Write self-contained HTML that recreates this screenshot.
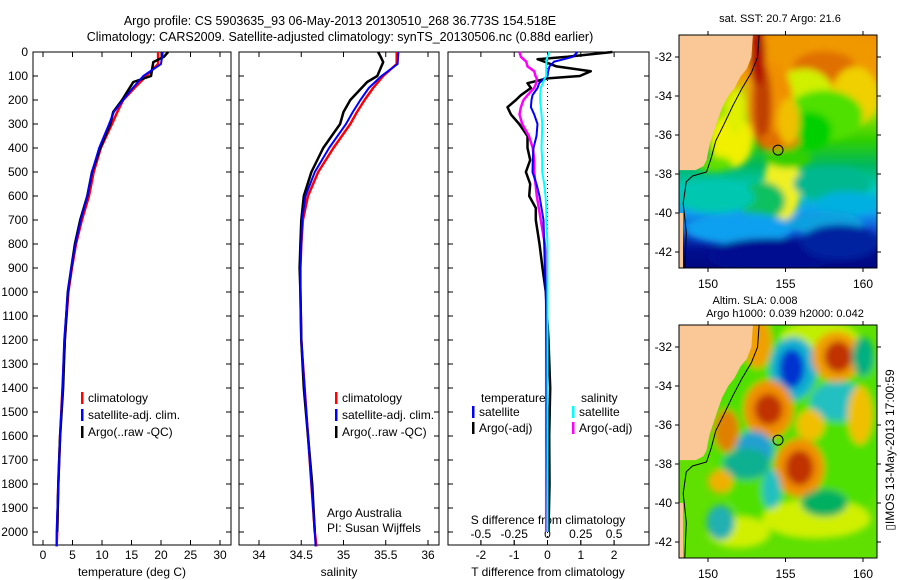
<!DOCTYPE html>
<html><head><meta charset="utf-8"><style>
html,body{margin:0;padding:0;background:#fff;}
svg{display:block;font-family:"Liberation Sans",sans-serif;}
</style></head><body>
<svg id="fig" width="900" height="580" viewBox="0 0 900 580">
<defs>
<filter id="blur" x="-20%" y="-20%" width="140%" height="140%"><feGaussianBlur stdDeviation="3.5"/></filter>
<linearGradient id="sstbg" x1="0" y1="0" x2="0" y2="1">
<stop offset="0" stop-color="#f09000"/><stop offset="0.18" stop-color="#f0a000"/>
<stop offset="0.3" stop-color="#b0e800"/><stop offset="0.45" stop-color="#30d000"/>
<stop offset="0.56" stop-color="#00b860"/><stop offset="0.66" stop-color="#00c8c0"/>
<stop offset="0.76" stop-color="#10a0f0"/><stop offset="0.84" stop-color="#1050d0"/>
<stop offset="0.92" stop-color="#001090"/><stop offset="1" stop-color="#000880"/>
</linearGradient>
<clipPath id="clip1"><rect x="679" y="35" width="198" height="233"/></clipPath>
<clipPath id="clip2"><rect x="679" y="325" width="198" height="233"/></clipPath>
</defs>
<text x="340" y="25" font-size="12.5" text-anchor="middle">Argo profile: CS 5903635_93 06-May-2013 20130510_268 36.773S 154.518E</text>
<text x="340" y="41" font-size="12.5" text-anchor="middle">Climatology: CARS2009. Satellite-adjusted climatology: synTS_20130506.nc (0.88d earlier)</text>
<g id="g"></g>
</svg>
<script>
// ---- data ----
const depths = [0,50,100,150,200,250,300,400,500,600,700,800,900,1000,1200,1400,1600,1800,2000,2060];
const tempClim = [19.5,19.5,17.5,15.5,13.6,12.6,11.7,9.8,8.6,7.8,6.6,5.6,4.9,4.3,3.7,3.3,2.9,2.6,2.4,2.3];
const tempSat = [20.3,20.0,17.0,15.2,13.6,12.0,11.2,9.5,8.3,7.5,6.4,5.5,4.8,4.2,3.6,3.3,2.9,2.6,2.3,2.3];
const argoDepths = [0,20,42,100,125,200,250,300,400,500,600,700,800,900,1000,1200,1400,1600,1800,2000];
const tempArgo = [21.2,20.5,18.7,18.3,15.3,13.4,11.9,11.4,9.7,8.3,7.5,6.3,5.4,4.8,4.2,3.7,3.4,2.9,2.6,2.4];
const salClim = [35.63,35.63,35.47,35.35,35.25,35.16,35.08,34.88,34.7,34.58,34.52,34.5,34.49,34.49,34.5,34.54,34.58,34.62,34.66,34.68];
const salSat = [35.65,35.64,35.45,35.3,35.2,35.11,35.03,34.83,34.66,34.55,34.51,34.5,34.49,34.49,34.5,34.54,34.58,34.62,34.66,34.67];
const salArgo = [35.41,35.44,35.47,35.4,35.28,35.08,35.0,34.96,34.76,34.62,34.53,34.5,34.49,34.48,34.49,34.5,34.53,34.58,34.63,34.66];
const diffDepths = [0,20,30,40,60,80,100,110,130,150,180,200,230,260,300,350,400,450,500,550,600,650,700,800,900,1000,1200,1400,1600,1800,2000];
const tDiffSat = [0.9,0.76,0.5,0.2,0.06,0.02,0,-0.1,-0.25,-0.3,-0.45,-0.48,-0.5,-0.4,-0.3,-0.33,-0.42,-0.44,-0.45,-0.33,-0.24,-0.18,-0.12,-0.1,-0.08,-0.05,-0.03,-0.02,-0.02,-0.01,0];
const tDiffArgo = [1.95,0.6,-0.3,-0.1,0.27,1.3,0.97,0,-0.6,-0.5,-0.8,-0.95,-1.2,-1.1,-0.85,-0.6,-0.6,-0.52,-0.65,-0.52,-0.55,-0.35,-0.35,-0.24,-0.15,-0.05,0.03,0.08,0.05,0.06,0.03];
const sDiffSat = [0.015,0.0,-0.005,-0.008,-0.01,-0.01,-0.01,-0.02,-0.035,-0.05,-0.055,-0.055,-0.05,-0.045,-0.04,-0.042,-0.045,-0.04,-0.04,-0.025,-0.015,-0.01,-0.008,0,0,0,0,0,0,0,0];
const sDiffArgo = [-0.21,-0.2,-0.18,-0.16,-0.15,-0.1,-0.09,-0.08,-0.085,-0.1,-0.15,-0.18,-0.2,-0.21,-0.19,-0.14,-0.11,-0.1,-0.1,-0.09,-0.08,-0.065,-0.05,-0.02,-0.01,-0.01,-0.01,-0.01,-0.01,-0.01,-0.01];
const depthTicks = [0,100,200,300,400,500,600,700,800,900,1000,1100,1200,1300,1400,1500,1600,1700,1800,1900,2000];
const tempTicks = [0,5,10,15,20,25,30];
const salTicks = [34,34.5,35,35.5,36];
const tDiffTicks = [-2,-1,0,1,2];
const sDiffTicks = [-0.5,-0.25,0,0.25,0.5];
const mapLonTicks = [150,155,160];
const mapLatTicks = [-32,-34,-36,-38,-40,-42];

// ---- axes ----
const yD = d => 52 + d*0.24;
const xT = t => 43 + t*5.9;
const xS = s => 259 + (s-34)*84.5;
const xTD = d => 547.5 + d*33.3;
const xSD = d => 547.5 + d*133.2;
const xLon = l => 708 + (l-150)*15.5;
const yLat1 = l => 57 + (-32-l)*19.5;
const yLat2 = l => 347 + (-32-l)*19.5;

const NS='http://www.w3.org/2000/svg';
const G=document.getElementById('g');
function el(tag,attrs,parent){const e=document.createElementNS(NS,tag);for(const k in attrs)e.setAttribute(k,attrs[k]);(parent||G).appendChild(e);return e;}
function txt(x,y,s,anchor,size,parent){const t=el('text',{x:x,y:y,'font-size':size||12,'text-anchor':anchor||'start'},parent);t.textContent=s;return t;}

function panel(x0,x1,name){
  const r=el('rect',{x:x0,y:52,width:x1-x0,height:493,fill:'none',stroke:'#000','stroke-width':1});
  
  
}
panel(33,231,'temperature-panel');
panel(239,439,'salinity-panel');
panel(448,649,'difference-panel');

depthTicks.forEach(d=>{
  const y=yD(d);
  const t=txt(28,y+4,String(d),'end',12);
  
  
  [[33,231],[239,439],[448,649]].forEach(p=>{
    el('line',{x1:p[0],x2:p[0]+5,y1:y,y2:y,stroke:'#000'});
    el('line',{x1:p[1],x2:p[1]-5,y1:y,y2:y,stroke:'#000'});
  });
});
function xticks(arr,fx,y){
  arr.forEach(v=>{
    const x=fx(v);
    el('line',{x1:x,x2:x,y1:545,y2:540,stroke:'#000'});
    el('line',{x1:x,x2:x,y1:52,y2:57,stroke:'#000'});
    const t=txt(x,y,String(v),'middle',12);
    
    
  });
}
xticks(tempTicks,xT,559);
xticks(salTicks,xS,559);
xticks(tDiffTicks,xTD,559);
sDiffTicks.forEach(v=>{
  const x=xSD(v);
  el('line',{x1:x,x2:x,y1:545,y2:540,stroke:'#000'});
  const t=txt(x,538,String(v),'middle',12);
  
  
});
let a=txt(132,576,'temperature (deg C)','middle',12);  
a=txt(339,576,'salinity','middle',12);  
a=txt(548,576,'T difference from climatology','middle',12);  
a=txt(548,524,'S difference from climatology','middle',12);  
el('line',{x1:xTD(0),x2:xTD(0),y1:52,y2:545,stroke:'#000','stroke-dasharray':'1,3'});

function line(xs,ds,fx,color,w,name){
  const pts=xs.map((v,i)=>fx(v).toFixed(1)+','+yD(ds[i]).toFixed(1)).join(' ');
  const p=el('polyline',{points:pts,fill:'none',stroke:color,'stroke-width':w,'stroke-linejoin':'round'});
  
  
}
line(tempClim,depths,xT,'#f00',2.5,'temp-climatology-line');
line(tempArgo,argoDepths,xT,'#000',2.5,'temp-argo-line');
line(tempSat,depths,xT,'#00f',2,'temp-satellite-line');
line(salClim,depths,xS,'#f00',2.5,'sal-climatology-line');
line(salArgo,argoDepths,xS,'#000',2.5,'sal-argo-line');
line(salSat,depths,xS,'#00f',2,'sal-satellite-line');
line(tDiffArgo,diffDepths,xTD,'#000',2.5,'t-diff-argo-line');
line(sDiffArgo,diffDepths,xSD,'#f0f',2.5,'s-diff-argo-line');
line(tDiffSat,diffDepths,xTD,'#00f',2,'t-diff-satellite-line');
line(sDiffSat,diffDepths,xSD,'#0ff',2,'s-diff-satellite-line');

function legend(x,y,color,label,name){
  const g=el('g',{});
  
  
  el('rect',{x:x,y:y-10,width:2.5,height:12,fill:color},g);
  txt(x+7,y,label,'start',12,g);
}
legend(81,402,'#f00','climatology','legend-climatology');
legend(81,419,'#00f','satellite-adj. clim.','legend-satellite');
legend(81,436,'#000','Argo(..raw -QC)','legend-argo');
legend(335,402,'#f00','climatology','legend-climatology-sal');
legend(335,419,'#00f','satellite-adj. clim.','legend-satellite-sal');
legend(335,436,'#000','Argo(..raw -QC)','legend-argo-sal');
a=txt(481,402,'temperature','start',12);  
a=txt(581,402,'salinity','start',12);  
legend(472,416,'#00f','satellite','legend-t-satellite');
legend(472,432,'#000','Argo(-adj)','legend-t-argo');
legend(572,416,'#0ff','satellite','legend-s-satellite');
legend(572,432,'#f0f','Argo(-adj)','legend-s-argo');
a=txt(327,517,'Argo Australia','start',12);  
a=txt(327,532,'PI: Susan Wijffels','start',12);  

// ---- maps ----
const coastPts = [[152.9,-30.8],[152.8,-32],[152.5,-32.6],[152.1,-33],[151.7,-33.6],[151.3,-34],[150.9,-34.6],[150.6,-35.3],[150.3,-36],[150.1,-36.5],[149.9,-37.3],[149.7,-37.6],[149.2,-37.8],[148.1,-37.8],[148.1,-30.8]];
const shelfPts = [[153.3,-30.8],[153.2,-32],[152.8,-32.8],[152.2,-33.6],[151.6,-34.5],[151.0,-35.5],[150.5,-36.3],[150.2,-37.2],[149.9,-37.9],[149.0,-38.1],[148.6,-38.4],[148.4,-39.5],[148.6,-41],[148.5,-42.8]];
function pts(arr,fy){return arr.map(p=>xLon(p[0]).toFixed(1)+','+fy(p[1]).toFixed(1)).join(' ');}
function map(top,fy,clip,name,blobs,bg){
  const g=el('g',{'clip-path':'url(#'+clip+')'});
  
  
  el('rect',{x:679,y:top,width:198,height:233,fill:bg},g);
  const bg2=el('g',{filter:'url(#blur)'},g);
  blobs.forEach(b=>el('ellipse',{cx:xLon(b[0]),cy:fy(b[1]),rx:b[2]*15.5,ry:b[3]*19.5,fill:b[4]},bg2));
  el('polygon',{points:pts(coastPts,fy),fill:'#f9c896'},g);
  el('rect',{x:679,y:fy(-40),width:4,height:fy(-42.8)-fy(-40),fill:'#f9c896'},g);
  el('polyline',{points:pts(shelfPts,fy),fill:'none',stroke:'#000','stroke-width':1},g);
  el('rect',{x:679,y:top,width:198,height:233,fill:'none',stroke:'#000'});
  mapLonTicks.forEach(l=>{
    el('line',{x1:xLon(l),x2:xLon(l),y1:top,y2:top-4,stroke:'#000'});
    el('line',{x1:xLon(l),x2:xLon(l),y1:top+233,y2:top+237,stroke:'#000'});
    const t=txt(xLon(l),top+253,String(l),'middle',12);
    
    
  });
  mapLatTicks.forEach(l=>{
    el('line',{x1:679,x2:675,y1:fy(l),y2:fy(l),stroke:'#000'});
    el('line',{x1:877,x2:881,y1:fy(l),y2:fy(l),stroke:'#000'});
    const t=txt(672,fy(l)+4,String(l),'end',12);
    
    
  });
  const c=el('circle',{cx:xLon(154.518),cy:fy(-36.773),r:5,fill:'none',stroke:'#000'});
  
  
}
map(35,yLat1,'clip1','sst-map',[
  [157,-32.3,5,1.6,'#f09800'],[157.5,-32.5,2,0.8,'#e07000'],[159.5,-34,1.5,1.5,'#f0d000'],
  [156.2,-33.8,1.8,1.2,'#d0f000'],[157.5,-35,2.5,1.3,'#50e000'],[156.5,-35.8,1.5,1.0,'#00d000'],
  [154,-34.5,1.5,2.3,'#f09000'],[153.5,-34.5,0.6,2.2,'#c04000'],[153.2,-32,0.5,1.5,'#b01000'],
  [154.6,-36.3,1.3,0.5,'#e07000'],[155.2,-35.3,0.7,1.2,'#f0c000'],
  [151.5,-36.3,1.4,1.4,'#f0f000'],[151.8,-34.8,0.6,1.2,'#e0f000'],[150.4,-37.5,1.2,0.4,'#60e000'],
  [154.8,-38.6,1.2,1.8,'#f0f020'],[155.2,-37.2,1.5,0.5,'#30d000'],
  [153.5,-39.4,1.5,1.0,'#10c060'],[150.5,-39.2,2.5,0.8,'#00c8b0'],
  [158,-38.5,2.5,0.9,'#00b890'],[159,-39.5,2,0.6,'#00b0e0'],
  [152,-40.8,3.5,0.8,'#10a0f0'],[157.5,-40.5,2.5,0.6,'#10a0e0'],
  [154,-42.2,4,0.9,'#001090'],[158.5,-41.5,2.5,0.9,'#0020a0']
],'url(#sstbg)');
map(325,yLat2,'clip2','sla-map',[
  [156,-36,6,6,'#50e000'],[157,-40.8,3.5,1,'#d0f000'],[152,-41.5,2,0.8,'#d0f000'],
  [157.2,-31.5,2.5,0.8,'#c0f000'],[153.2,-31.8,0.9,1.3,'#f0a000'],
  [155.5,-33.1,1.5,1.6,'#10b0d0'],[155.4,-33.1,0.8,1.0,'#0030d0'],
  [158.3,-32.5,1.6,1.3,'#f0a000'],[158.4,-32.5,0.9,0.8,'#c03000'],
  [153.9,-35.2,1.6,1.5,'#f09000'],[153.9,-35.2,0.9,0.8,'#c03000'],
  [155.9,-38.2,1.6,1.5,'#f09000'],[155.9,-38.2,0.9,0.9,'#c03000'],
  [151.2,-36.3,0.8,1.1,'#e08000'],[158.4,-34.8,1.8,1.0,'#20c0c0'],
  [153,-37.3,1.2,1.0,'#20a0d0'],[152.5,-38,1.5,0.8,'#10b090'],
  [154.1,-39.3,0.6,1.0,'#20c0c0'],[150.8,-41,0.9,0.9,'#20b0b0'],[157.5,-40,1.5,0.7,'#00b060'],
  [150.8,-38.9,0.8,0.6,'#f0b000'],[156.6,-36,0.9,0.8,'#f0c000'],[159.8,-35.5,0.8,1.5,'#f0c000'],
  [160,-32.5,0.7,1,'#00b080']
],'#60e000');
a=txt(780,22,'sat. SST: 20.7 Argo: 21.6','middle',11);  
a=txt(755,304,'Altim. SLA: 0.008','middle',11);  
a=txt(785,317,'Argo h1000: 0.039 h2000: 0.042','middle',11);  
a=txt(0,0,'\u25AFIMOS 13-May-2013 17:00:59','middle',12);
a.setAttribute('transform','translate(894,450) rotate(-90)');


</script>
</body></html>
